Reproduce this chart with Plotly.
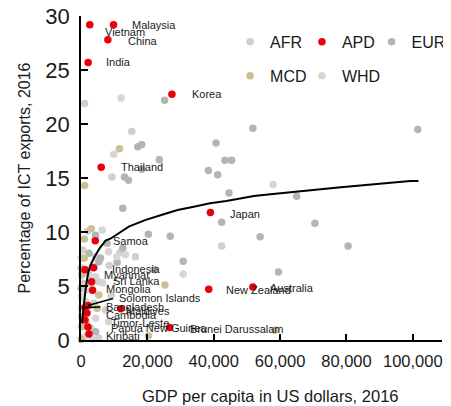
import plotly.graph_objects as go

# ---------------- data (GDP per capita in thousands of US$, ICT export share %) ----------------
afr_x = [1.1, 15.3, 9.3, 42.4, 16.4, 11.8, 2.06, 0.5, 4.41, 3.91, 2.44, 5.38, 0.5, 3.91, 0.2, 7.35, 1.47, 2.94, 5.38, 8.5, 9.1]
afr_y = [21.9, 19.3, 15.1, 8.7, 7.7, 8.1, 10.09, 8.33, 7.71, 6.79, 6.02, 5.40, 5.25, 3.40, 2.94, 2.78, 1.69, 1.08, 0.16, 6.9, 4.1]

whd_x = [12.1, 9.9, 57.9, 30.8, 13.4, 6.38, 8.32, 0.1, 10.8, 1.97, 4.41, 1.47, 0.2, 1.47, 4.41, 8.32, 0.97, 3.44, 6.5]
whd_y = [22.4, 17.2, 14.4, 6.1, 7.9, 10.19, 8.18, 7.59, 7.71, 6.48, 5.86, 4.63, 4.01, 3.55, 2.01, 1.69, 0.31, 0.1, 5.3]

eur_x = [25.2, 17.1, 18.3, 23.6, 18.3, 13.1, 14.3, 40.7, 38.4, 41.2, 43.4, 45.4, 51.8, 101.5, 44.6, 65.0,
         12.6, 42.4, 70.5, 54.0, 80.5, 59.5, 30.8, 20.3, 26.9, 22.1, 12.6, 5.9, 4.4, 7.85, 2.44, 5.38, 0.1, 4.41, 10.9]
eur_y = [22.2, 17.9, 18.1, 16.7, 15.8, 15.1, 14.8, 18.25, 15.7, 15.3, 16.65, 16.65, 19.6, 19.5, 13.6, 13.3,
         12.2, 10.9, 10.8, 9.55, 8.7, 6.3, 7.3, 9.8, 9.6, 6.5, 8.5, 7.6, 9.7, 8.95, 8.03, 7.25, 4.79, 0.77, 7.2]

mcd_x = [11.6, 1.1, 3.1, 25.3, 20.3, 58.5, 0.97, 0.1, 0.2, 2.94, 5.38, 4.91, 0.2, 0.2, 0.1, 1.03]
mcd_y = [17.7, 14.3, 10.3, 5.1, 0.4, 0.9, 7.56, 6.64, 6.02, 5.25, 4.17, 2.94, 2.16, 1.23, 0.05, 9.35]

apd_names = ["Vietnam", "Malaysia", "China", "India", "Korea", "Thailand", "Japan", "New Zealand",
             "Australia", "Brunei Darussalam", "Samoa", "Indonesia", "Maldives", "Myanmar", "Sri Lanka",
             "Mongolia", "Solomon Islands", "Bangladesh", "Cambodia", "Timor-Leste", "Papua New Guinea", "Kiribati"]
apd_x = [2.65, 9.8, 8.1, 2.15, 27.4, 6.1, 39.0, 38.5, 51.8, 26.7, 4.3, 3.8, 12.0, 1.2, 3.2, 3.5, 2.1, 1.2, 1.8, 1.2, 2.1, 2.4]
apd_y = [29.2, 29.2, 27.8, 25.7, 22.75, 16.0, 11.8, 4.7, 4.9, 1.16, 9.2, 6.7, 2.9, 6.5, 5.4, 4.6, 3.2, 3.0, 2.5, 1.85, 1.2, 0.55]

# trend line
trend_x = [0.29, 0.5, 0.88, 1.47, 2.15, 2.85, 4.1, 5.6, 7.4, 9.0, 14.4, 19.3, 24.2, 29.1, 34.0, 38.9, 43.8,
           48.7, 52.1, 57.1, 61.7, 66.6, 72.3, 78.3, 85.0, 91.4, 99.2, 101.7]
trend_y = [1.57, 2.16, 3.4, 4.94, 6.18, 6.94, 7.71, 8.49, 9.2, 9.4, 10.5, 11.1, 11.57, 12.04, 12.34, 12.66, 12.87,
           13.12, 13.33, 13.49, 13.64, 13.82, 13.95, 14.14, 14.32, 14.51, 14.72, 14.72]

x_ticks = [0, 20, 40, 60, 80, 100]
x_tick_text = ["0", "20,000", "40,000", "60,000", "80,000", "100,000"]
y_ticks = [0, 5, 10, 15, 20, 25, 30]

# label placement (left edge of text, in data units)
label_pos = {
    "Malaysia": (14.7, 29.17), "Vietnam": (6.5, 28.5), "China": (13.5, 27.7), "India": (7.06, 25.74),
    "Korea": (32.9, 22.8), "Thailand": (11.5, 16.0), "Japan": (44.4, 11.67), "New Zealand": (43.2, 4.63),
    "Australia": (56.5, 4.81), "Brunei Darussalam": (32.1, 1.02), "Samoa": (9.1, 9.17),
    "Indonesia": (8.8, 6.57), "Myanmar": (6.2, 6.0), "Sri Lanka": (9.1, 5.46), "Mongolia": (7.06, 4.72),
    "Solomon Islands": (10.9, 3.89), "Bangladesh": (7.06, 3.06), "Maldives": (12.9, 2.69),
    "Cambodia": (6.8, 2.31), "Timor-Leste": (8.5, 1.57), "Papua New Guinea": (8.5, 1.11), "Kiribati": (7.06, 0.37),
}
leader = {"Solomon Islands", "Bangladesh"}

FONT = "Liberation Sans, Arial, sans-serif"
K = 1000

fig = go.Figure()

def scatter(name, xs, ys, color, legend):
    fig.add_trace(go.Scatter(
        x=[v * K for v in xs], y=ys, mode="markers", name=name, legend=legend,
        marker=dict(color=color, size=7.5, line=dict(width=0)), cliponaxis=False))

scatter("AFR", afr_x, afr_y, "#cfcfcf", "legend")
scatter("EUR", eur_x, eur_y, "#b4b4b4", "legend3")
scatter("WHD", whd_x, whd_y, "#d6d6d6", "legend5")
scatter("MCD", mcd_x, mcd_y, "#cbbf95", "legend4")
scatter("APD", apd_x, apd_y, "#e8000b", "legend2")

fig.add_trace(go.Scatter(x=[v * K for v in trend_x], y=trend_y, mode="lines",
                         line=dict(color="black", width=2), showlegend=False, hoverinfo="skip"))

annotations = []
for n, px, py in zip(apd_names, apd_x, apd_y):
    lx, ly = label_pos[n]
    annotations.append(dict(x=lx * K, y=ly, text=n, showarrow=False, xanchor="left", yanchor="middle",
                            font=dict(family=FONT, size=11, color="#1a1a1a")))
    if n in leader:
        annotations.append(dict(x=px * K, y=py, ax=lx * K - 800, ay=ly, axref="x", ayref="y", text="",
                                showarrow=True, arrowhead=0, arrowwidth=1.6, arrowcolor="black"))

# x-axis title (placed slightly right of centre, as in the reference)
annotations.append(dict(x=0.524, y=-0.173, xref="paper", yref="paper", showarrow=False,
                        text="GDP per capita in US dollars, 2016", xanchor="center", yanchor="middle",
                        font=dict(family=FONT, size=16.5, color="#1a1a1a")))

def leg(x, y):
    return dict(x=x, y=y, xanchor="left", yanchor="middle", font=dict(size=16),
                bgcolor="rgba(0,0,0,0)", itemwidth=30)

# the page body adds an 8 px margin, so the figure is 443 x 398
fig.update_layout(
    width=443, height=398, margin=dict(l=73, r=0, t=8, b=66),
    paper_bgcolor="white", plot_bgcolor="white",
    font=dict(family=FONT, size=16, color="#1a1a1a"),
    annotations=annotations,
    legend=leg(0.413, 0.92), legend2=leg(0.612, 0.92), legend3=leg(0.805, 0.92),
    legend4=leg(0.413, 0.815), legend5=leg(0.612, 0.815),
    xaxis=dict(range=[0, 108800], tickvals=[v * K for v in x_ticks], ticktext=x_tick_text,
               showline=True, linecolor="black", linewidth=1.6, ticks="inside", ticklen=6,
               tickwidth=1.6, tickcolor="black", showgrid=False, zeroline=False, automargin=False,
               tickfont=dict(size=16.5), ticklabelstandoff=5, ticklabeloverflow="allow"),
    yaxis=dict(range=[0, 30], tickvals=y_ticks, showline=True, linecolor="black", linewidth=1.6,
               ticks="inside", ticklen=7, tickwidth=1.6, tickcolor="black", showgrid=False,
               zeroline=False, automargin=False, tickfont=dict(size=22), ticklabelstandoff=5,
               ticklabeloverflow="allow",
               title=dict(text="Percentage of ICT exports, 2016", font=dict(size=16), standoff=11)),
)

fig.write_html("out.html")
